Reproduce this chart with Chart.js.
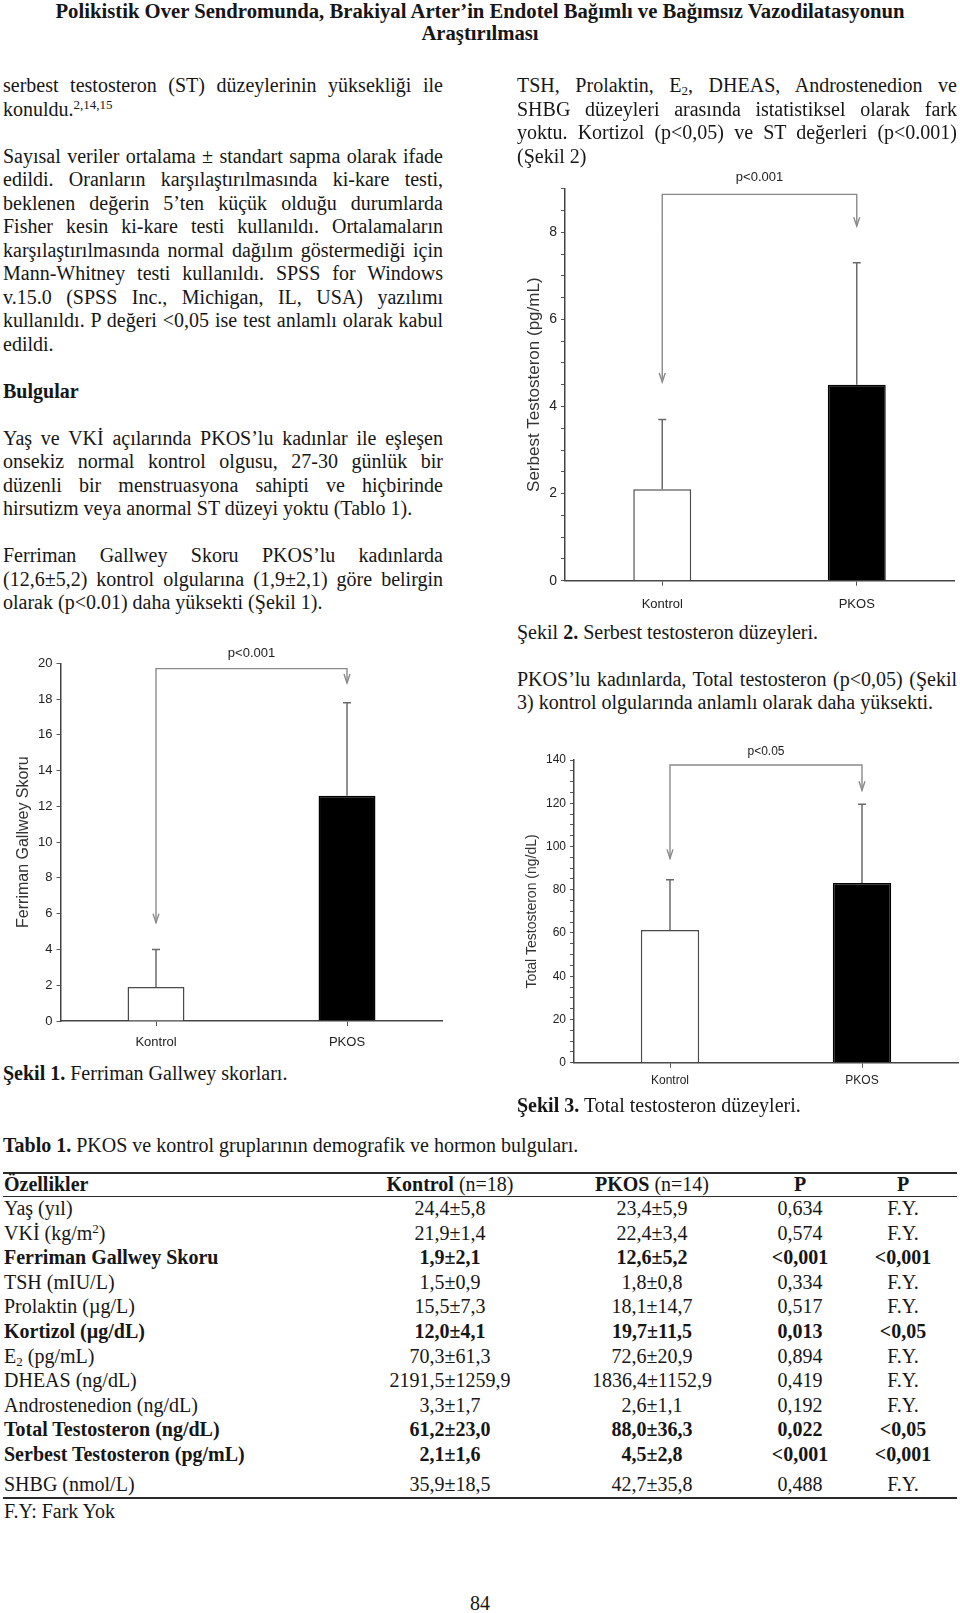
<!DOCTYPE html>
<html><head><meta charset="utf-8">
<script src="https://cdn.jsdelivr.net/npm/chart.js@4.4.1/dist/chart.umd.min.js"></script>
<style>
html,body{margin:0;padding:0;background:#fff;}
body{width:960px;height:1613px;position:relative;overflow:hidden;font-family:"Liberation Serif","Times New Roman",serif;color:#161616;}
.ln{position:absolute;height:24px;line-height:24px;font-size:20px;white-space:nowrap;}
.j{text-align:justify;text-align-last:justify;}
.c{text-align:center;}
sup{font-size:13px;vertical-align:7px;line-height:0;}
sub{font-size:13px;vertical-align:-3px;line-height:0;}
canvas{position:absolute;}
.rule{position:absolute;left:3px;width:954px;background:#2a2a2a;}
</style>
</head><body>
<canvas id="c1" width="460" height="430" style="left:0px;top:630px"></canvas>
<canvas id="c2" width="450" height="460" style="left:510px;top:160px"></canvas>
<canvas id="c3" width="450" height="370" style="left:510px;top:730px"></canvas>
<script>
// ---------- chart data ----------
const categories = ['Kontrol', 'PKOS'];

// Şekil 1 – Ferriman Gallwey skoru
const fgMeans = [1.9, 12.6];
const fgUpper = [4.0, 17.8];
const fgBracket = [19.7, 5.5, 18.9];      // bracket level, left arrow tip, right arrow tip
const fgTickLabels = [0, 2, 4, 6, 8, 10, 12, 14, 16, 18, 20];

// Şekil 2 – Serbest testosteron
const stMeans = [2.1, 4.5];
const stUpper = [3.7, 7.3];
const stBracket = [8.87, 4.56, 8.14];
const stTickLabels = [0, 2, 4, 6, 8];

// Şekil 3 – Total testosteron
const ttMeans = [61.4, 83.1];
const ttUpper = [84.6, 119.5];
const ttBracket = [137.7, 94.5, 126];
const ttTickLabels = [0, 20, 40, 60, 80, 100, 120, 140];

// ---------- table data ----------
const tableLabels = ['Yaş (yıl)', 'VKİ (kg/m<sup>2</sup>)', 'Ferriman Gallwey Skoru', 'TSH (mIU/L)', 'Prolaktin (µg/L)', 'Kortizol (µg/dL)', 'E<sub>2</sub> (pg/mL)', 'DHEAS (ng/dL)', 'Androstenedion (ng/dL)', 'Total Testosteron (ng/dL)', 'Serbest Testosteron (pg/mL)', 'SHBG (nmol/L)'];
const kontrolCol = ['24,4±5,8', '21,9±1,4', '1,9±2,1', '1,5±0,9', '15,5±7,3', '12,0±4,1', '70,3±61,3', '2191,5±1259,9', '3,3±1,7', '61,2±23,0', '2,1±1,6', '35,9±18,5'];
const pkosCol = ['23,4±5,9', '22,4±3,4', '12,6±5,2', '1,8±0,8', '18,1±14,7', '19,7±11,5', '72,6±20,9', '1836,4±1152,9', '2,6±1,1', '88,0±36,3', '4,5±2,8', '42,7±35,8'];
const pCol = ['0,634', '0,574', '<0,001', '0,334', '0,517', '0,013', '0,894', '0,419', '0,192', '0,022', '<0,001', '0,488'];
const sigCol = ['F.Y.', 'F.Y.', '<0,001', 'F.Y.', 'F.Y.', '<0,05', 'F.Y.', 'F.Y.', 'F.Y.', '<0,05', '<0,001', 'F.Y.'];
const boldRows = [2, 5, 9, 10];

// ---------- text helpers ----------
function addLine(left, width, center, html, cls, bold) {
  const d = document.createElement('div');
  d.className = 'ln' + (cls ? ' ' + cls : '');
  d.style.left = left + 'px'; d.style.width = width + 'px'; d.style.top = (center - 12) + 'px';
  if (bold) d.style.fontWeight = 'bold';
  d.innerHTML = html;
  document.body.appendChild(d);
  return d;
}
function placeLines(left, width, start, step, lines) {
  let c = start;
  lines.forEach(l => { if (l) addLine(left, width, c, l.t, l.j ? 'j' : '', l.b); c += step; });
}
const J = t => ({t, j: true}), L = t => ({t}), B = t => ({t, b: true});

// title
addLine(0, 960, 10.5, 'Polikistik Over Sendromunda, Brakiyal Arter’in Endotel Bağımlı ve Bağımsız Vazodilatasyonun', 'c', true).style.fontSize = '20.7px';
addLine(0, 960, 33, 'Araştırılması', 'c', true).style.fontSize = '20.7px';

// left column
placeLines(3, 440, 85, 23.5, [
  J('serbest testosteron (ST) düzeylerinin yüksekliği ile'),
  L('konuldu.<sup>2,14,15</sup>'),
  null,
  J('Sayısal veriler ortalama ± standart sapma olarak ifade'),
  J('edildi. Oranların karşılaştırılmasında ki-kare testi,'),
  J('beklenen değerin 5’ten küçük olduğu durumlarda'),
  J('Fisher kesin ki-kare testi kullanıldı. Ortalamaların'),
  J('karşılaştırılmasında normal dağılım göstermediği için'),
  J('Mann-Whitney testi kullanıldı. SPSS for Windows'),
  J('v.15.0 (SPSS Inc., Michigan, IL, USA) yazılımı'),
  J('kullanıldı. P değeri &lt;0,05 ise test anlamlı olarak kabul'),
  L('edildi.'),
  null,
  B('Bulgular'),
  null,
  J('Yaş ve VKİ açılarında PKOS’lu kadınlar ile eşleşen'),
  J('onsekiz normal kontrol olgusu, 27-30 günlük bir'),
  J('düzenli bir menstruasyona sahipti ve hiçbirinde'),
  L('hirsutizm veya anormal ST düzeyi yoktu (Tablo 1).'),
  null,
  J('Ferriman Gallwey Skoru PKOS’lu kadınlarda'),
  J('(12,6±5,2) kontrol olgularına (1,9±2,1) göre belirgin'),
  L('olarak (p&lt;0.01) daha yüksekti (Şekil 1).')
]);
addLine(3, 440, 1073, '<b>Şekil 1.</b> Ferriman Gallwey skorları.');

// right column
placeLines(517, 440, 85, 23.5, [
  J('TSH, Prolaktin, E<sub>2</sub>, DHEAS, Androstenedion ve'),
  J('SHBG düzeyleri arasında istatistiksel olarak fark'),
  J('yoktu. Kortizol (p&lt;0,05) ve ST değerleri (p&lt;0.001)'),
  L('(Şekil 2)')
]);
addLine(517, 440, 632, 'Şekil <b>2.</b> Serbest testosteron düzeyleri.');
placeLines(517, 440, 678.5, 23.5, [
  J('PKOS’lu kadınlarda, Total testosteron (p&lt;0,05) (Şekil'),
  L('3) kontrol olgularında anlamlı olarak daha yüksekti.')
]);
addLine(517, 440, 1105, '<b>Şekil 3.</b> Total testosteron düzeyleri.');

// table
addLine(3, 900, 1145, '<b>Tablo 1.</b> PKOS ve kontrol gruplarının demografik ve hormon bulguları.');
function rule(top, h) { const r = document.createElement('div'); r.className = 'rule'; r.style.top = top + 'px'; r.style.height = h + 'px'; document.body.appendChild(r); }
rule(1171.5, 2); rule(1196, 1); rule(1497, 2);
const colCenters = [450, 652, 800, 903];
function cellAt(cx, center, txt, bold, html) {
  const d = addLine(cx - 110, 220, center, '', 'c', bold);
  if (html) d.innerHTML = txt; else d.textContent = txt;
}
addLine(4, 380, 1184, 'Özellikler', '', true);
cellAt(colCenters[0], 1184, '<b>Kontrol</b> (n=18)', false, true);
cellAt(colCenters[1], 1184, '<b>PKOS</b> (n=14)', false, true);
cellAt(colCenters[2], 1184, 'P', true);
cellAt(colCenters[3], 1184, 'P', true);
tableLabels.forEach((lab, i) => {
  const c = 1208 + i * 24.6 + (i === 11 ? 5 : 0);
  const b = boldRows.includes(i);
  addLine(4, 380, c, lab, '', b);
  cellAt(colCenters[0], c, kontrolCol[i], b);
  cellAt(colCenters[1], c, pkosCol[i], b);
  cellAt(colCenters[2], c, pCol[i], b);
  cellAt(colCenters[3], c, sigCol[i], b);
});
addLine(4, 300, 1510.5, 'F.Y: Fark Yok');
addLine(380, 200, 1603, '84', 'c');

// ---------- charts ----------
const FONT_N = '"Liberation Sans Narrow","Arial Narrow","Liberation Sans",Arial,sans-serif';
const FONT_S = '"Liberation Sans",Arial,sans-serif';

const annotPlugin = {
  id: 'annot',
  afterDatasetsDraw(chart, args, o) {
    const ctx = chart.ctx, x = chart.scales.x, y = chart.scales.y;
    ctx.save();
    ctx.strokeStyle = '#6a6a6a'; ctx.lineWidth = 1.5;
    o.means.forEach((m, i) => {
      const px = x.getPixelForValue(i);
      const y0 = y.getPixelForValue(m), y1 = y.getPixelForValue(o.upper[i]);
      ctx.beginPath();
      ctx.moveTo(px, y0); ctx.lineTo(px, y1);
      ctx.moveTo(px - 4, y1); ctx.lineTo(px + 4, y1);
      ctx.stroke();
    });
    const [lvl, tipL, tipR] = o.bracket;
    const xl = x.getPixelForValue(0), xr = x.getPixelForValue(1);
    const yl = y.getPixelForValue(lvl), yL = y.getPixelForValue(tipL), yR = y.getPixelForValue(tipR);
    ctx.strokeStyle = '#8a8a8a'; ctx.lineWidth = 1.4;
    ctx.beginPath();
    ctx.moveTo(xl, yL); ctx.lineTo(xl, yl); ctx.lineTo(xr, yl); ctx.lineTo(xr, yR);
    ctx.stroke();
    [[xl, yL], [xr, yR]].forEach(([ax, ay]) => {
      ctx.beginPath(); ctx.moveTo(ax - 3, ay - 9); ctx.lineTo(ax, ay); ctx.lineTo(ax + 3, ay - 9); ctx.stroke();
    });
    ctx.fillStyle = '#222';
    ctx.font = o.pSize + 'px ' + FONT_N;
    ctx.textAlign = 'center'; ctx.textBaseline = 'middle';
    ctx.fillText(o.pText, (xl + xr) / 2, yl - o.pGap);
    ctx.restore();
  }
};

function makeChart(id, o) {
  return new Chart(document.getElementById(id), {
    type: 'bar',
    data: {
      labels: categories,
      datasets: [{
        data: o.means,
        backgroundColor: ['#ffffff', '#000000'],
        borderColor: ['#4a4a4a', '#000000'],
        borderWidth: 1.5,
        barPercentage: o.barPct,
        categoryPercentage: 1
      }]
    },
    options: {
      responsive: false, animation: false, events: [],
      layout: {padding: o.pad},
      plugins: {
        legend: {display: false}, tooltip: {enabled: false},
        annot: {means: o.means, upper: o.upper, bracket: o.bracket, pText: o.pText, pSize: o.pSize, pGap: o.pGap}
      },
      scales: {
        x: {
          grid: {display: true, drawOnChartArea: false, drawTicks: true, tickLength: 5, offset: false, color: '#555'},
          border: {display: true, color: '#444', width: 1.5},
          ticks: {color: '#222', font: {size: o.xFont, family: FONT_N}, padding: o.xPad},
          afterFit: s => { s.height = o.xH; }
        },
        y: {
          min: 0, max: o.max,
          grid: {drawOnChartArea: false, drawTicks: true, tickLength: 4, color: '#555'},
          border: {display: true, color: '#444', width: 1.5},
          ticks: {stepSize: o.step, autoSkip: false, color: '#222', padding: 4,
            font: {size: o.yFont, family: FONT_N},
            callback: v => o.labels.includes(v) ? String(v) : ''},
          title: {display: true, text: o.title, color: '#333', font: {size: o.tSize, family: FONT_S}, padding: {top: o.tPad, bottom: 0}},
          afterFit: s => { s.width = o.yW; }
        }
      }
    },
    plugins: [annotPlugin]
  });
}

makeChart('c1', {
  means: fgMeans, upper: fgUpper, bracket: fgBracket, labels: fgTickLabels,
  max: 20, step: 2, title: 'Ferriman Gallwey Skoru', tSize: 16, tPad: 14.4,
  yW: 60.5, xH: 39, pad: {left: 0, top: 33.3, right: 17.5, bottom: 0},
  barPct: 0.298, xFont: 13, xPad: 8.7, yFont: 13, pText: 'p<0.001', pSize: 13, pGap: 15
});
makeChart('c2', {
  means: stMeans, upper: stUpper, bracket: stBracket, labels: stTickLabels,
  max: 9, step: 0.5, title: 'Serbest Testosteron (pg/mL)', tSize: 17, tPad: 13.8,
  yW: 55, xH: 39.3, pad: {left: 0, top: 28.7, right: 6, bottom: 0},
  barPct: 0.298, xFont: 13, xPad: 11.2, yFont: 14, pText: 'p<0.001', pSize: 13, pGap: 16.7
});
makeChart('c3', {
  means: ttMeans, upper: ttUpper, bracket: ttBracket, labels: ttTickLabels,
  max: 140, step: 5, title: 'Total Testosteron (ng/dL)', tSize: 14, tPad: 13.3,
  yW: 64, xH: 37.3, pad: {left: 0, top: 30, right: 2, bottom: 0},
  barPct: 0.304, xFont: 12, xPad: 5.4, yFont: 12, pText: 'p<0.05', pSize: 12, pGap: 13.3
});
</script>
</body></html>
